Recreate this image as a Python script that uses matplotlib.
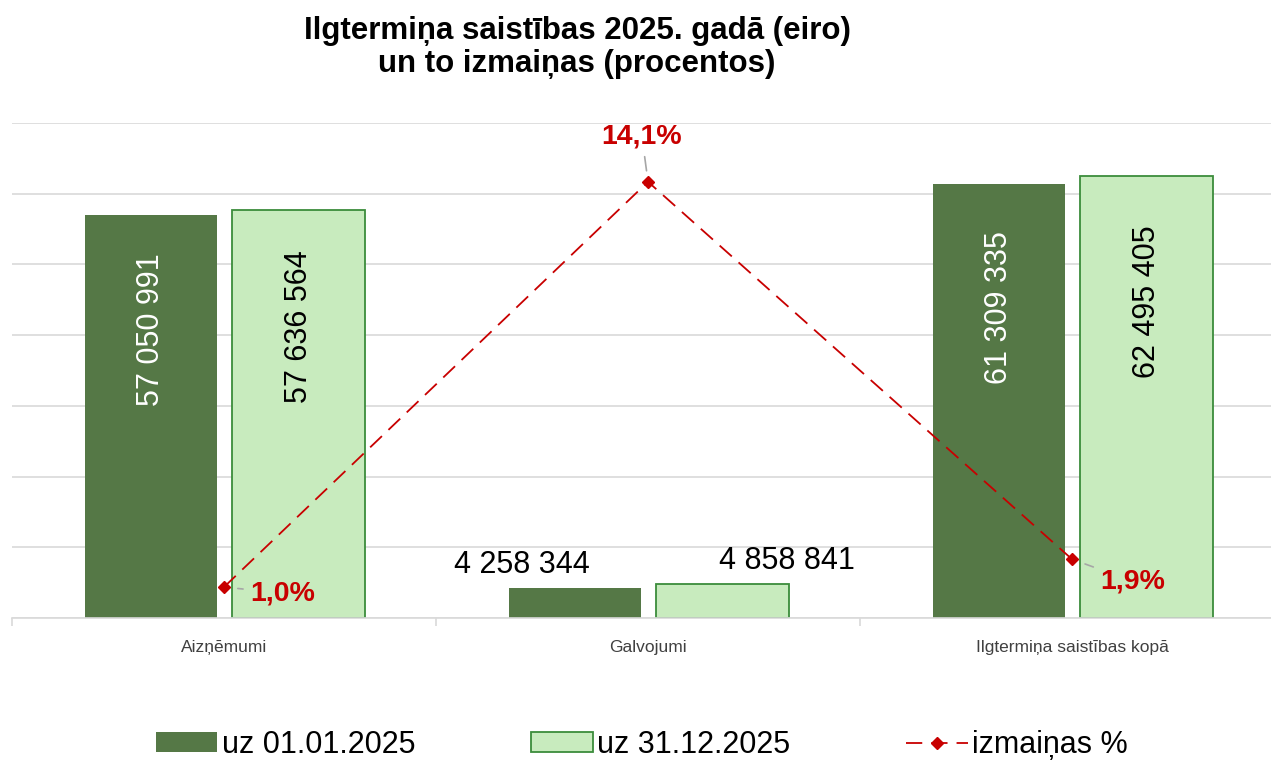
import matplotlib.pyplot as plt
import numpy as np

plt.rcParams['font.family'] = ['Liberation Sans', 'DejaVu Sans']

categories = ['Aizņēmumi', 'Galvojumi', 'Ilgtermiņa saistības kopā']
start_2025 = [57050991, 4258344, 61309335]
end_2025 = [57636564, 4858841, 62495405]
change_pct = [1.0, 14.1, 1.9]
series_names = ['uz 01.01.2025', 'uz 31.12.2025', 'izmaiņas %']

dark = '#557846'
light = '#c8ebbe'
light_edge = '#3b8c3b'
red = '#c80000'


def fmt(v):
    return f'{v:,}'.replace(',', ' ')


fig = plt.figure(figsize=(12.71, 7.61), dpi=100)
ax = fig.add_axes([12 / 1271, 143 / 761, 1272 / 1271, 495 / 761])

x = np.arange(len(categories))
w = 0.312
b1 = ax.bar(x - 0.173, start_2025, w, color=dark, label=series_names[0], zorder=2)
b2 = ax.bar(x + 0.176, end_2025, w, color=light, edgecolor=light_edge,
            linewidth=1.3, label=series_names[1], zorder=2)

ax2 = ax.twinx()
ax2.set_ylim(0, 16)
ax2.axis('off')
ax2.plot(x, change_pct, color=red, linestyle=(0, (9, 5)), linewidth=1.3,
         marker='D', markersize=6, label=series_names[2], zorder=4)

ax.set_xlim(-0.5, 2.5)
ax.set_ylim(0, 70e6)
ax.set_yticks(np.arange(0, 70e6 + 1, 10e6))
ax.yaxis.grid(True, color='#d9d9d9', linewidth=1.2, zorder=0)
ax.tick_params(axis='y', which='both', left=False, right=False,
               labelleft=False, labelright=False)
for s in ['top', 'right', 'left']:
    ax.spines[s].set_visible(False)
ax.spines['bottom'].set_color('#d9d9d9')
ax.spines['bottom'].set_linewidth(1.2)
ax.set_xticks(x)
ax.set_xticklabels(categories, fontsize=12.5, color='#404040')
ax.tick_params(axis='x', length=0, pad=16)
ax.set_xticks([-0.5, 0.5, 1.5, 2.5], minor=True)
ax.tick_params(axis='x', which='minor', length=6, color='#d9d9d9', width=1.2)

# value labels: rotated inside the tall bars, horizontal above the small ones
for i in range(len(categories)):
    for bars, vals, col, dx in [(b1, start_2025, 'white', -53), (b2, end_2025, 'black', 64)]:
        r = bars[i]
        cx = r.get_x() + r.get_width() / 2
        if vals[i] > 20e6:
            ax.text(cx, vals[i] * 0.715, fmt(vals[i]), rotation=90, ha='center',
                    va='center', fontsize=22, color=col, zorder=3)
        else:
            ax.annotate(fmt(vals[i]), (cx, vals[i]), xytext=(dx, 8),
                        textcoords='offset pixels', ha='center', va='bottom',
                        fontsize=22, color='black', zorder=3)

offsets = [(26, -6, 'left', 'center', 10), (-6, 45, 'center', 'center', 8),
           (28, -22, 'left', 'center', 10)]
for xi, p, (dx, dy, ha, va, sb) in zip(x, change_pct, offsets):
    ax2.annotate(f'{p:.1f}%'.replace('.', ','), (xi, p), xytext=(dx, dy),
                 textcoords='offset pixels', ha=ha, va=va, fontsize=20.5,
                 fontweight='bold', color=red,
                 arrowprops=dict(arrowstyle='-', color='#a6a6a6', lw=1.2,
                                 shrinkA=3, shrinkB=sb))

fig.text(577 / 1271, 1 - 16 / 761,
         'Ilgtermiņa saistības 2025. gadā (eiro)\nun to izmaiņas (procentos)',
         ha='center', va='top', fontsize=22.5, fontweight='bold', linespacing=1.15)

h1, l1 = ax.get_legend_handles_labels()
h2, l2 = ax2.get_legend_handles_labels()
fig.legend(h1 + h2, l1 + l2, loc='center', bbox_to_anchor=(642 / 1271, 16 / 761),
           ncol=3, frameon=False, fontsize=22, handlelength=2.0, handleheight=0.65,
           handletextpad=0.15, columnspacing=3.8, numpoints=1)

fig.savefig('out.png', dpi=100)
